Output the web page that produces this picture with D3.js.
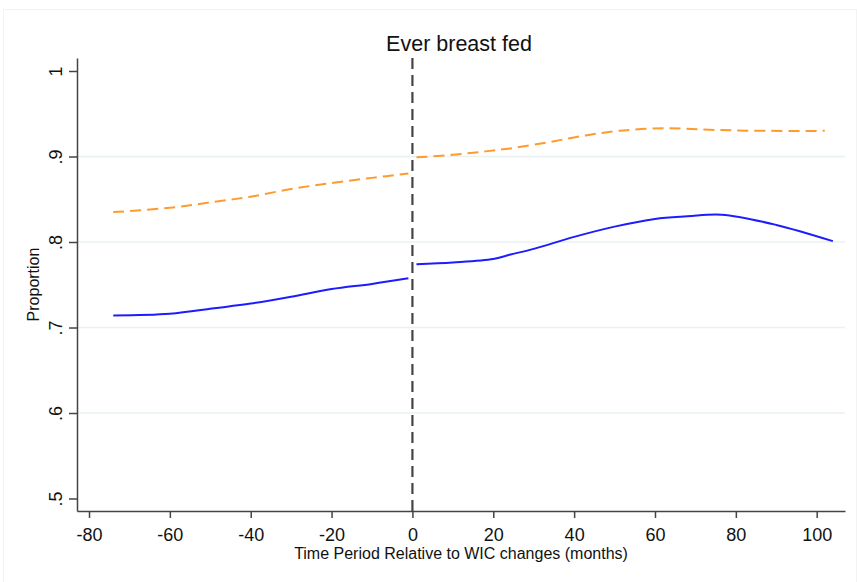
<!DOCTYPE html>
<html>
<head>
<meta charset="utf-8">
<script src="https://cdn.jsdelivr.net/npm/d3@7"></script>
<style>
  body { margin: 0; background: #fff; }
  text { font-family: "Liberation Sans", Arial, sans-serif; fill: #111; }
</style>
</head>
<body>
<script>
// months relative to WIC change, and smoothed proportions
var blueLeftX = [-74, -60, -49, -40, -30, -20, -10, -1]
var blueLeftY = [0.714, 0.716, 0.7225, 0.728, 0.736, 0.745, 0.751, 0.7575]
var blueRightX = [1, 10, 20, 24, 30, 40, 50, 60, 68, 76.5, 90, 104]
var blueRightY = [0.774, 0.776, 0.780, 0.785, 0.792, 0.806, 0.818, 0.827, 0.830, 0.832, 0.820, 0.801]

var orangeLeftX = [-74, -60, -49, -40, -30, -20, -10, -1]
var orangeLeftY = [0.835, 0.840, 0.847, 0.853, 0.862, 0.869, 0.875, 0.880]
var orangeRightX = [1, 10, 18, 25, 34, 42, 51, 63, 75, 88, 102]
var orangeRightY = [0.899, 0.902, 0.906, 0.910, 0.917, 0.924, 0.930, 0.933, 0.931, 0.930, 0.930]

var xTicks = [-80, -60, -40, -20, 0, 20, 40, 60, 80, 100]
var yTicks = [0.5, 0.6, 0.7, 0.8, 0.9, 1]
var yTickLabels = [".5", ".6", ".7", ".8", ".9", "1"]
var gridTicks = [0.6, 0.7, 0.8, 0.9]

var width = 857
var height = 582
var plotLeft = 77, plotRight = 845, plotTop = 58, plotBottom = 511

var svg = d3.select("body")
            .append("svg")
            .attr("width", width)
            .attr("height", height)

// faint outer frame
svg.append("rect")
   .attr("x", 3.5).attr("y", 9.5)
   .attr("width", width - 4).attr("height", height - 6)
   .attr("fill", "none")
   .attr("stroke", "#f3f3f3")

var xScale = d3.scaleLinear()
               .domain([-82.97, 107])
               .range([plotLeft, plotRight])

var yScale = d3.scaleLinear()
               .domain([0.4854, 1.0152])
               .range([plotBottom, plotTop])

// grid
svg.selectAll(".grid")
   .data(gridTicks)
   .enter()
   .append("line")
   .attr("class", "grid")
   .attr("x1", plotLeft).attr("x2", plotRight)
   .attr("y1", function(d){ return yScale(d) })
   .attr("y2", function(d){ return yScale(d) })
   .attr("stroke", "#eaf1f2")
   .attr("stroke-width", 1.5)

// axes
var xAxis = d3.axisBottom(xScale)
              .tickValues(xTicks)
              .tickSize(7)
              .tickSizeOuter(0)
              .tickFormat(function(d){ return String(d) })

var yAxis = d3.axisLeft(yScale)
              .tickValues(yTicks)
              .tickSize(8)
              .tickSizeOuter(0)
              .tickFormat(function(d, i){ return yTickLabels[i] })

var gx = svg.append("g")
            .attr("transform", "translate(0," + plotBottom + ")")
            .call(xAxis)
gx.select(".domain").attr("stroke", "#444").attr("stroke-width", 1.5)
gx.selectAll(".tick line").attr("stroke", "#444").attr("stroke-width", 1.5)
gx.selectAll(".tick text")
  .attr("font-size", 18)
  .attr("font-family", "Liberation Sans, Arial, sans-serif")
  .attr("fill", "#111")
  .attr("y", 30).attr("dy", 0)

var gy = svg.append("g")
            .attr("transform", "translate(" + plotLeft + ",0)")
            .call(yAxis)
gy.select(".domain").attr("stroke", "#444").attr("stroke-width", 1.5)
gy.selectAll(".tick line").attr("stroke", "#444").attr("stroke-width", 1.5)
gy.selectAll(".tick text")
  .attr("font-size", 18)
  .attr("font-family", "Liberation Sans, Arial, sans-serif")
  .attr("fill", "#111")
  .attr("x", 0).attr("dy", 0)
  .attr("text-anchor", "middle")
  .attr("transform", "translate(-15,0) rotate(-90)")

// vertical dashed line at 0
svg.append("line")
   .attr("x1", xScale(0)).attr("x2", xScale(0))
   .attr("y1", plotTop).attr("y2", plotBottom)
   .attr("stroke", "#444")
   .attr("stroke-width", 2.2)
   .attr("stroke-dasharray", "11,6")

var line = d3.line()
             .x(function(d){ return xScale(d[0]) })
             .y(function(d){ return yScale(d[1]) })
             .curve(d3.curveCatmullRom.alpha(0.5))

var segments = [
  {x: orangeLeftX, y: orangeLeftY, color: "#ff9a2e", dash: "11,6"},
  {x: orangeRightX, y: orangeRightY, color: "#ff9a2e", dash: "11,6"},
  {x: blueLeftX, y: blueLeftY, color: "#1c1cff", dash: null},
  {x: blueRightX, y: blueRightY, color: "#1c1cff", dash: null}
]

segments.forEach(function(s){
  var pts = d3.zip(s.x, s.y)
  svg.append("path")
     .datum(pts)
     .attr("d", line)
     .attr("fill", "none")
     .attr("stroke", s.color)
     .attr("stroke-width", 2)
     .attr("stroke-dasharray", s.dash)
})

// titles
svg.append("text")
   .attr("x", 459).attr("y", 51)
   .attr("text-anchor", "middle")
   .attr("font-size", 21.5)
   .text("Ever breast fed")

svg.append("text")
   .attr("x", 461).attr("y", 559)
   .attr("text-anchor", "middle")
   .attr("font-size", 16)
   .text("Time Period Relative to WIC changes (months)")

svg.append("text")
   .attr("transform", "translate(39," + ((plotTop + plotBottom) / 2) + ") rotate(-90)")
   .attr("text-anchor", "middle")
   .attr("font-size", 16)
   .text("Proportion")
</script>
</body>
</html>
